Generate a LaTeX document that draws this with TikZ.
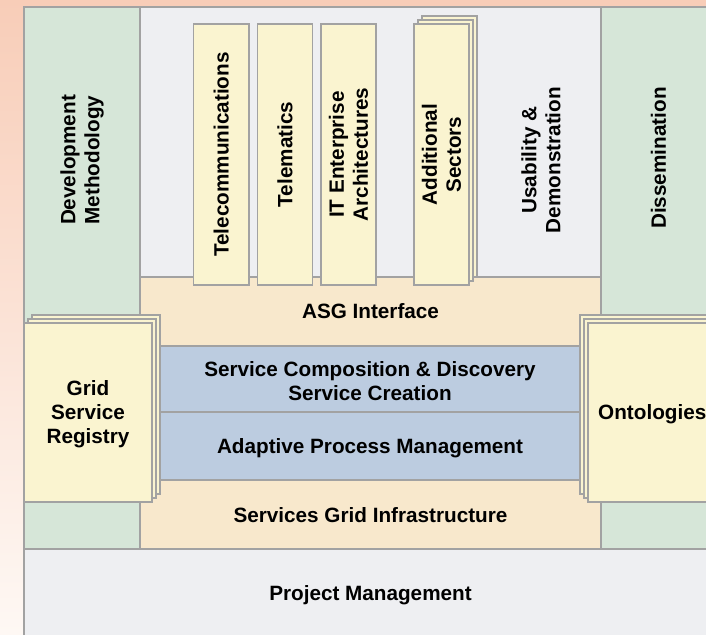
\documentclass[tikz,border=0pt]{standalone}
\usepackage{fontspec}
\setmainfont{Liberation Sans}
\usetikzlibrary{fit}
\definecolor{bgtop}{RGB}{248,205,184}
\definecolor{bgbot}{RGB}{254,248,244}
\definecolor{grn}{RGB}{214,230,216}
\definecolor{gry}{RGB}{238,239,242}
\definecolor{yel}{RGB}{250,244,208}
\definecolor{org}{RGB}{248,232,204}
\definecolor{blu}{RGB}{188,204,224}
\definecolor{edge}{RGB}{162,162,162}
\begin{document}
\begin{tikzpicture}[x=1pt,y=-1pt,
  box/.style={draw=edge, line width=1.1pt, inner sep=0pt, outer sep=0pt},
  lbl/.style={font=\fontsize{20.7}{24}\selectfont\bfseries, align=center, inner sep=0pt, text=black},
  hlbl/.style={lbl, yshift=-2pt},
]
\useasboundingbox (0,0) rectangle (706,634);
\clip (0,0) rectangle (706,634);
\shade[top color=bgtop, bottom color=bgbot] (0,0) rectangle (706,634);
% columns and regions
\node[box, fill=grn, fit={(24,7) (140,549)}] (dev) {};
\node[box, fill=grn, fit={(601,7) (716,549)}] (dis) {};
\node[box, fill=gry, fit={(140,7) (601,277)}] (top) {};
\node[box, fill=org, fit={(140,277) (601,549)}] (mid) {};
\node[box, fill=blu, fit={(160,346) (580,412)}] (bl1) {};
\node[box, fill=blu, fit={(160,412) (580,480)}] (bl2) {};
% tall sector boxes
\node[box, fill=yel, fit={(193.5,24) (249,285)}] (tel) {};
\node[box, fill=yel, fit={(257.5,24) (312.5,285)}] (tlm) {};
\node[box, fill=yel, fit={(321,24) (376,285)}] (itea) {};
\node[box, fill=yel, fit={(422,16) (477,277)}] (add3) {};
\node[box, fill=yel, fit={(418,20) (473,281)}] (add2) {};
\node[box, fill=yel, fit={(414,24) (469,285)}] (add) {};
% stacks
\node[box, fill=yel, fit={(32,315) (160,494)}] (gsr3) {};
\node[box, fill=yel, fit={(28,319) (156,498)}] (gsr2) {};
\node[box, fill=yel, fit={(24,323) (152,502)}] (gsr) {};
\node[box, fill=yel, fit={(580,315) (708,494)}] (ont3) {};
\node[box, fill=yel, fit={(584,319) (712,498)}] (ont2) {};
\node[box, fill=yel, fit={(588,323) (716,502)}] (ont) {};
% project management
\node[box, fill=gry, fit={(24,549) (716,640)}] (pm) {};
% labels
\node[lbl, rotate=90] (devt) at (82,160) {Development\\Methodology};
\node[lbl, rotate=90] (dist) at (658.5,158) {Dissemination};
\node[lbl, rotate=90] (usat) at (541,160) {Usability \&\\Demonstration};
\node[lbl, rotate=90] (telt) at (tel) {Telecommunications};
\node[lbl, rotate=90] (tlmt) at (tlm) {Telematics};
\node[lbl, rotate=90] (iteat) at (itea) {IT Enterprise\\Architectures};
\node[lbl, rotate=90] (addt) at (add) {Additional\\Sectors};
\node[hlbl] (asgt) at (370.5,309) {ASG Interface};
\node[hlbl] (bl1t) at (bl1) {Service Composition \& Discovery\\Service Creation};
\node[hlbl] (bl2t) at (bl2) {Adaptive Process Management};
\node[hlbl] (sgit) at (370.5,513) {Services Grid Infrastructure};
\node[hlbl] (pmt) at (370.5,593) {Project Management};
\node[hlbl] (gsrt) at (gsr) {Grid\\Service\\Registry};
\node[hlbl, anchor=west] (ontt) at (598,412) {Ontologies};
\end{tikzpicture}
\end{document}
